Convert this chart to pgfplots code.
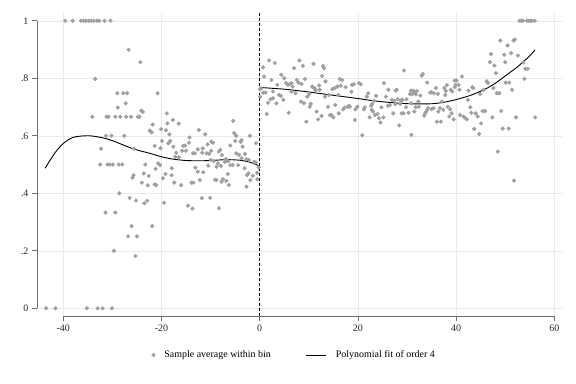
\documentclass[border=0pt]{standalone}
\usepackage{fontspec}
\setmainfont{Liberation Serif}
\usepackage{pgfplots}
\pgfplotsset{compat=1.18}
\definecolor{dotgray}{RGB}{160,160,160}
\definecolor{gridgray}{RGB}{234,234,234}
\definecolor{axisgray}{RGB}{110,110,110}
\pgfplotsset{linelegend/.style={legend image code/.code={\draw[##1] (0bp,0bp) -- (20bp,0bp);}}}
\begin{document}
\begin{tikzpicture}
\path[use as bounding box] (-37bp,-68bp) rectangle (539bp,316bp);
\begin{axis}[
  at={(0,0)}, anchor=south west,
  scale only axis, width=525bp, height=303bp,
  xmin=-45.36, xmax=61.57, ymin=-0.0268, ymax=1.027,
  clip=false,
  axis line style={draw=none},
  tick pos=left, tick align=outside,
  major tick length=5bp,
  tick style={draw=axisgray, line width=0.6bp},
  xtick={-40,-20,0,20,40,60},
  xticklabels={-40,-20,0,20,40,60},
  ytick={0,0.2,0.4,0.6,0.8,1},
  yticklabels={0,.2,.4,.6,.8,1},
  xticklabel style={font=\fontsize{10}{12}\selectfont, text=black!85},
  yticklabel style={font=\fontsize{10}{12}\selectfont, text=black!85},
  grid=major,
  major grid style={draw=gridgray, line width=0.5bp},
  legend style={draw=none, fill=none, at={(0.49,-0.129)}, anchor=center,
    font=\fontsize{10}{12}\selectfont, legend columns=2,
    /tikz/every odd column/.append style={column sep=7bp},
    /tikz/every even column/.append style={column sep=33bp}},
  legend cell align=left,
]
\addplot[only marks, mark=*, mark size=1.9bp, color=dotgray, mark options={draw=dotgray, fill=dotgray}] coordinates {
(-39.6,1) (-38.1,1) (-36.4,1) (-35.9,1) (-35.4,1) (-34.8,1) (-34.3,1) (-33.8,1) (-33.2,1) (-32.7,1) (-31.6,1) (-30.4,1)
(-43.5,0) (-41.6,0) (-35.2,0) (-33.0,0) (-32.0,0) (-30.1,0)
(-26.7,.899) (-24.3,.856) (-33.5,.798) (-29.0,.748) (-27.8,.748) (-27.0,.748) (-28.9,.698) (-27.3,.713) (-24.1,.687) (-23.8,.683)
(-34.1,.666) (-31.2,.666) (-30.8,.666) (-29.4,.666) (-28.4,.666) (-27.2,.666) (-26.2,.666) (-24.8,.666) (-24.5,.666)
(-22.4,.618) (-31.3,.6) (-30.2,.6) (-27.6,.6) (-32.3,.555) (-25.6,.555)
(-32.5,.5) (-31.0,.5) (-30.5,.5) (-29.9,.5) (-28.7,.5) (-28.0,.5) (-23.3,.5)
(-25.7,.463) (-25.9,.454) (-23.6,.469) (-22.6,.46) (-24.0,.437) (-22.8,.428)
(-28.6,.4) (-26.5,.384) (-25.2,.375) (-23.5,.365) (-22.9,.374)
(-31.4,.333) (-29.4,.333) (-26.1,.286) (-26.8,.25) (-25.0,.25) (-29.7,.2) (-25.3,.182)
(-20.8,.748) (-18.9,.678) (-17.7,.655) (-16.5,.642) (-18.8,.643) (-21.8,.639) (-22.0,.612) (-20.1,.623) (-19.1,.619) (-18.4,.605)
(-19.9,.582) (-18.2,.582) (-18.6,.574) (-21.4,.565) (-20.2,.557) (-17.6,.562) (-17.0,.541) (-16.5,.525) (-17.2,.527) (-15.6,.565)
(-15.2,.566) (-14.4,.576) (-14.3,.594) (-15.0,.548) (-15.8,.548) (-13.6,.539) (-13.2,.539) (-12.4,.62) (-11.1,.605) (-12.6,.553)
(-11.7,.541) (-11.6,.556) (-10.8,.539) (-10.3,.537) (-10.6,.57) (-9.86,.579) (-9.5,.576) (-9.9,.548) (-10.0,.516) (-9.4,.512)
(-8.3,.545) (-8.0,.551) (-7.7,.533) (-8.5,.504) (-8.8,.492) (-7.9,.495) (-7.1,.509) (-6.8,.512) (-6.4,.512) (-6.9,.519)
(-6.0,.566) (-5.4,.652) (-5.2,.609) (-4.8,.6) (-5.0,.582) (-3.9,.579) (-3.7,.585) (-3.5,.562) (-4.8,.539) (-4.2,.534)
(-3.7,.522) (-3.0,.537) (-2.7,.518) (-2.2,.516) (-2.0,.6) (-0.75,.574) (-1.2,.509) (-0.8,.507)
(-21.2,.485) (-20.7,.504) (-20.3,.498) (-19.2,.467) (-19.7,.452) (-17.9,.487) (-17.96,.463) (-17.4,.437) (-16.0,.428) (-13.9,.437)
(-13.5,.437) (-13.1,.489) (-12.6,.475) (-12.2,.446) (-11.5,.473) (-10.5,.496) (-9.1,.447) (-8.8,.446) (-7.8,.44) (-7.5,.449)
(-6.8,.443) (-6.3,.429) (-6.5,.467) (-5.97,.498) (-5.5,.498) (-4.4,.498) (-3.1,.487) (-2.6,.463) (-2.3,.469) (-1.9,.446)
(-1.4,.461) (-0.5,.471) (-0.5,.449) (-2.7,.423) (-21.4,.431) (-21.1,.428) (-0.2,.49)
(-19.5,.367) (-14.6,.357) (-13.7,.347) (-11.8,.383) (-10.1,.384) (-8.3,.348) (-21.9,.286)
(0.05,.762) (0.3,.765) (0.1,.736) (0.68,.75) (1.2,.75) (0.88,.806) (0.68,.838) (1.9,.862) (3.06,.853) (2.4,.794)
(1.43,.676) (1.7,.715) (2.2,.727) (2.7,.73) (3.4,.713) (2.7,.754) (3.6,.777) (3.95,.742) (4.3,.739) (4.4,.812)
(4.8,.725) (4.97,.8) (5.4,.783) (5.8,.777) (6.1,.78) (6.5,.783) (6.7,.771) (7.0,.835) (5.9,.68) (6.5,.754)
(7.3,.748) (7.55,.794) (7.9,.785) (8.1,.862) (8.8,.843) (8.5,.78) (9.2,.797) (8.4,.719) (9.0,.713) (9.5,.649)
(9.7,.736) (10.1,.745) (10.2,.701) (10.4,.711) (10.7,.771) (11.2,.765) (10.95,.85) (11.6,.684) (11.9,.657) (11.4,.757)
(12.1,.775) (12.2,.76) (12.6,.669) (12.9,.843) (13.1,.835) (12.7,.808) (13.4,.789) (13.3,.736) (14.1,.742) (13.9,.701)
(14.3,.672) (14.6,.672) (15.0,.664) (14.8,.762) (15.2,.765) (15.4,.707) (15.8,.771) (16.3,.797) (16.8,.794) (16.5,.774)
(16.0,.742) (17.0,.692) (17.3,.698) (17.9,.701) (18.2,.704) (18.4,.701) (17.5,.769) (16.1,.678) (18.7,.753) (18.8,.777)
(19.2,.779) (19.4,.655) (19.5,.692) (19.9,.701) (20.2,.783) (20.6,.779) (20.9,.602) (21.2,.692) (21.4,.699) (21.8,.736)
(22.1,.748) (22.4,.664) (22.8,.69) (23.1,.684) (22.7,.704) (22.9,.711) (23.3,.722) (23.7,.739) (23.5,.672) (24.0,.676)
(24.3,.661) (24.6,.646) (25.2,.664) (24.8,.699) (25.3,.783) (25.7,.736) (26.1,.704) (26.5,.707) (26.9,.725) (26.2,.76)
(27.2,.678) (27.4,.722) (27.7,.757) (28.1,.727) (28.4,.636) (28.8,.722) (29.1,.725) (28.9,.678) (29.4,.827)
(52.9,1) (53.3,1) (53.6,1) (54.4,1) (54.7,1) (55.1,1) (55.4,1) (56.0,1)
(49.0,.931) (50.5,.914) (51.7,.931) (52.0,.935) (47.1,.884) (46.9,.856) (47.8,.844) (49.8,.882) (51.2,.887) (50.0,.856)
(52.6,.879) (48.1,.818) (54.1,.833) (54.6,.833) (53.9,.798) (53.7,.855) (50.1,.785) (50.8,.785) (46.2,.79) (46.5,.783)
(51.4,.76) (48.3,.748) (48.8,.748) (47.6,.766) (49.2,.686) (47.4,.664) (49.5,.625) (50.7,.625) (52.2,.664) (56.1,.664)
(48.5,.545) (51.8,.444) (45.4,.686) (45.9,.686) (45.1,.643) (43.7,.624) (44.7,.606) (44.9,.745) (45.6,.76) (43.3,.769)
(43.5,.766) (42.5,.757) (42.4,.725) (42.9,.699) (43.1,.68) (44.0,.678) (44.4,.667) (41.5,.667) (41.9,.661) (42.2,.657)
(40.8,.672) (41.2,.806) (39.7,.792) (40.1,.792) (39.9,.777) (40.5,.777) (40.7,.76) (38.9,.76) (39.2,.754) (39.7,.769)
(39.5,.657) (38.6,.667) (37.6,.766) (38.1,.776) (37.8,.742) (37.9,.756) (38.3,.701) (38.8,.692) (39.1,.678) (37.4,.69)
(37.1,.719) (36.9,.649) (36.4,.684) (36.7,.696) (35.9,.766) (35.5,.748) (35.0,.751) (34.7,.75) (36.3,.746) (34.1,.785)
(33.0,.809) (33.2,.815) (34.3,.696) (34.1,.69) (33.9,.684) (33.7,.678) (33.5,.67) (35.0,.693) (35.4,.696) (30.8,.757)
(31.3,.757) (30.6,.745) (31.1,.745) (31.5,.75) (32.0,.755) (31.8,.744) (32.7,.74) (30.9,.603) (29.3,.678) (30.3,.68)
(31.5,.684) (32.3,.719) (32.4,.701) (28.9,.725) (29.9,.727) (29.8,.699) (28.6,.711) (27.6,.71) (31.8,.699) (30.8,.713)
(27.9,.76) (36.1,.649)
};
\addlegendentry{Sample average within bin}
\addplot[black, line width=0.9bp, smooth, linelegend] coordinates {
(-43.7,.487) (-42.5,.52) (-41.5,.545) (-40.1,.572) (-38.7,.589) (-37.4,.597) (-34.7,.600) (-32,.593) (-30,.583) (-27.5,.566)
(-25.5,.553) (-22.4,.539) (-20,.527) (-17.7,.519) (-15,.514) (-12,.513) (-9,.515) (-6.8,.517) (-4.1,.515) (-2,.508) (-0.2,.496)
};
\addlegendentry{Polynomial fit of order 4}
\addplot[black, line width=0.9bp, smooth, forget plot] coordinates {
(0,.768) (5,.762) (9.2,.754) (14,.743) (19.4,.731) (24,.72) (29.6,.712) (34.4,.711) (37,.715) (39.8,.725)
(43,.741) (45.9,.762) (48,.783) (50,.808) (52,.833) (53.4,.853) (55,.878) (56.1,.899)
};
\addplot[black, line width=0.8bp, dash pattern=on 3bp off 2bp, forget plot] coordinates {(0,-0.0268) (0,1.027)};
\draw[axisgray, line width=0.6bp] (axis cs:-40,-0.0268) -- (axis cs:60,-0.0268);
\draw[axisgray, line width=0.6bp] (axis cs:-45.36,0) -- (axis cs:-45.36,1);
\end{axis}
\end{tikzpicture}
\end{document}
